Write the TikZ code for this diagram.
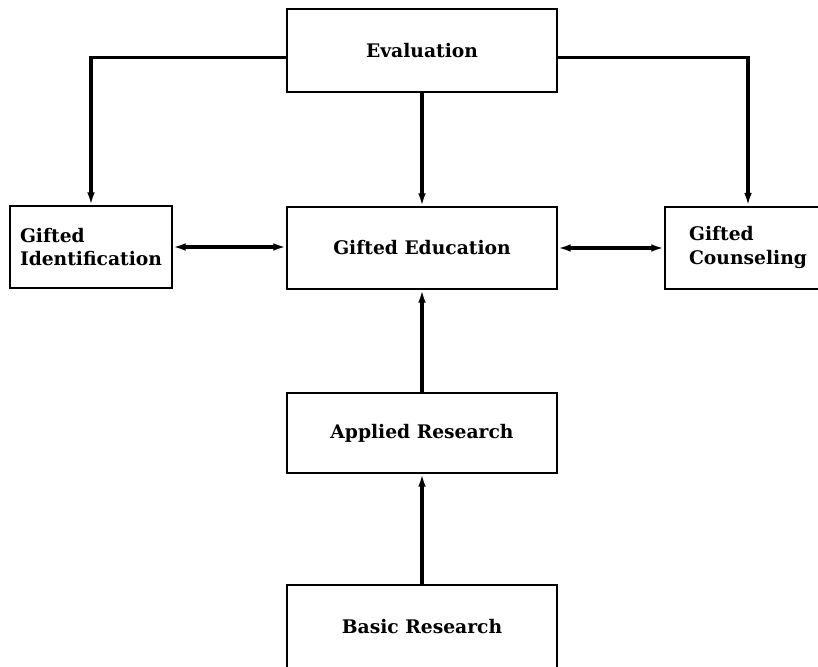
\documentclass[tikz,border=0pt]{standalone}
\usepackage{fontspec}
\setmainfont{DejaVu Serif}
\usepackage{tikz}
\usetikzlibrary{positioning,arrows.meta}
\tikzstyle{block}  = [rectangle, draw=black, line width=1.5pt, align=left, inner sep=0pt, font=\bfseries\fontsize{13.3}{17}\selectfont]
\tikzstyle{wide}   = [block, minimum width=6.75cm, minimum height=2.05cm]
\tikzstyle{side}   = [block, minimum height=2.05cm]
\tikzstyle{arrow}  = [line width=2.2pt, -{Latex[length=9pt,width=5.5pt]}]
\tikzstyle{darrow} = [line width=2.2pt, {Latex[length=9pt,width=5.5pt]}-{Latex[length=9pt,width=5.5pt]}]

\begin{document}
\begin{tikzpicture}
        \useasboundingbox (0,0) rectangle (20.45,16.65);
        \clip (0,0) rectangle (20.45,16.65);

        \node[wide, minimum height=2.075cm] (evaluation) at (10.55,15.39) {Evaluation};
        \node[side, minimum width=4.05cm] (identification) at (2.275,10.475) {Gifted\\Identification};
        \node[wide] (education) at (10.55,10.45) {Gifted Education};
        \node[side, minimum width=4.15cm] (counseling) at (18.7,10.46) {Gifted\\Counseling};
        \node[wide, minimum height=2.0cm] (applied) at (10.55,5.825) {Applied Research};
        \node[wide, minimum height=2.1cm] (basic) at (10.55,0.975) {Basic Research};

        \draw[arrow] ([yshift=-0.17cm]evaluation.west) -| (identification.north);
        \draw[arrow] ([yshift=-0.17cm]evaluation.east) -| (counseling.north);
        \draw[arrow] (evaluation) -- (education);
        \draw[darrow] (identification.east) -- (education.west |- identification.east);
        \draw[darrow] (education.east) -- (counseling.west |- education.east);
        \draw[arrow] (applied) -- (education);
        \draw[arrow] (basic) -- (applied);
\end{tikzpicture}
\end{document}
